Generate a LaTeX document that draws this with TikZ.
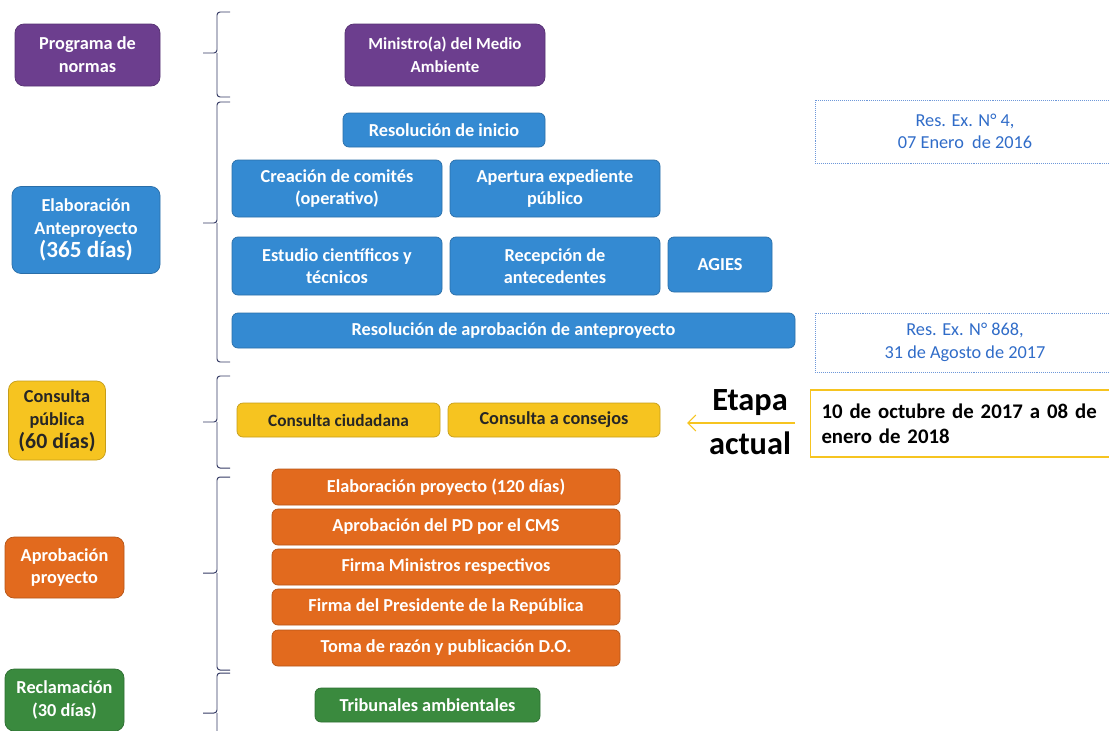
\documentclass[tikz,border=0pt]{standalone}
\usepackage{fontspec}
\setmainfont{Carlito}
\usepackage{xcolor}
\usetikzlibrary{arrows.meta}
\newlength\px
\setlength\px{0.025cm}
\definecolor{normpurple}{RGB}{108,62,142}
\definecolor{normblue}{RGB}{52,138,210}
\definecolor{normyellow}{RGB}{246,196,32}
\definecolor{normorange}{RGB}{226,106,30}
\definecolor{normgreen}{RGB}{58,138,62}
\definecolor{braceblue}{RGB}{52,58,100}
\definecolor{resblue}{RGB}{48,108,200}
\tikzstyle{stage}=[
        rounded corners = 9\px,
        align = center,
        inner sep = 0pt,
        text = white,
        line width = 0.5pt,
        font = \bfseries\fontsize{13}{16.3}\selectfont
    ]
\tikzstyle{task}=[
    rounded corners = 6\px,
    align = center,
    inner sep = 0pt,
    text = white,
    line width = 0.5pt,
    font = \bfseries\fontsize{13}{15.6}\selectfont
]
\tikzstyle{resbox}=[
    draw = resblue!70,
    densely dotted,
    align = center,
    inner sep = 0pt,
    text = resblue,
    font = \fontsize{13}{16}\selectfont
]
\tikzstyle{period}=[
    draw = braceblue,
    line width = 0.7pt,
    rounded corners = 3\px
]

\begin{document}
\begin{tikzpicture}[x=\px, y=-\px]
        \useasboundingbox (0,0) rectangle (1109,730);

        \node[stage, fill=normpurple, draw=normpurple!80!black, minimum width=145\px, minimum height=62\px] (programa) at (87.5,55) {Programa de\\normas};
        \node[stage, fill=normblue, draw=normblue!80!black, minimum width=148\px, minimum height=87\px] (elaboracion) at (86,230) {Elaboración\\Anteproyecto\\{\fontsize{16.5}{19}\selectfont (365 días)}};
        \node[stage, fill=normyellow, draw=normyellow!80!black, text=black!85, minimum width=97\px, minimum height=79\px] (consulta) at (57,420.5) {Consulta\\pública\\{\fontsize{15.5}{18}\selectfont (60 días)}};
        \node[stage, fill=normorange, draw=normorange!80!black, minimum width=119\px, minimum height=61\px] (aprobacion) at (64.5,567.5) {Aprobación\\proyecto};
        \node[stage, fill=normgreen, draw=normgreen!80!black, minimum width=119\px, minimum height=62\px] (reclamacion) at (64.5,700) {Reclamación\\(30 días)};

        \foreach \top/\mid/\bot in {12/53/97, 102/223/362, 376/422/468, 477/573/670, 673/713/760}
            \draw[period] (230,\top) -| (217,\mid) -- (203,\mid) (217,\mid) |- (230,\bot);

        \node[task, fill=normpurple, draw=normpurple!80!black, rounded corners=9\px, minimum width=200\px, minimum height=62\px, font=\bfseries\fontsize{12}{16}\selectfont] (ministro) at (445,55) {Ministro(a) del Medio\\Ambiente};

        \node[task, fill=normblue, draw=normblue!80!black, minimum width=202\px, minimum height=34\px] (inicio) at (444,130) {Resolución de inicio};
        \node[task, fill=normblue, draw=normblue!80!black, minimum width=210\px, minimum height=57\px] (comites) at (337,188.5) {Creación de comités\\(operativo)};
        \node[task, fill=normblue, draw=normblue!80!black, minimum width=210\px, minimum height=57\px] (expediente) at (555,188.5) {Apertura expediente\\público};
        \node[task, fill=normblue, draw=normblue!80!black, minimum width=210\px, minimum height=58\px] (estudios) at (337,266) {Estudio científicos y\\técnicos};
        \node[task, fill=normblue, draw=normblue!80!black, minimum width=210\px, minimum height=58\px] (antecedentes) at (555,266) {Recepción de\\antecedentes};
        \node[task, fill=normblue, draw=normblue!80!black, minimum width=104\px, minimum height=55\px] (agies) at (720,264.5) {AGIES};
        \node[task, fill=normblue, draw=normblue!80!black, minimum width=563\px, minimum height=35\px] (anteproyecto) at (513.5,330.5) {Resolución de aprobación de anteproyecto};

        \node[resbox, minimum width=310\px, minimum height=63\px] (res4) at (970,131.5) {\hspace*{-10\px}Res. Ex. N° 4,\\\hspace*{-10\px}07 Enero~ de 2016};
        \node[resbox, minimum width=310\px, minimum height=59\px] (res868) at (970,342.5) {\hspace*{-10\px}Res. Ex. N° 868,\\\hspace*{-10\px}31 de Agosto de 2017};

        \node[task, fill=normyellow, draw=normyellow!80!black, text=black!85, minimum width=203\px, minimum height=34\px, font=\bfseries\fontsize{12.3}{15}\selectfont] (ciudadana) at (338.5,420) {Consulta ciudadana};
        \node[task, fill=normyellow, draw=normyellow!80!black, text=black!85, minimum width=212\px, minimum height=34\px] (consejos) at (554,420) {Consulta a consejos};

        \node[align=center, inner sep=0pt, font=\bfseries\fontsize{23}{31}\selectfont] (etapa) at (750,422) {Etapa\\actual};
        \node[draw=normyellow, thick, align=left, inner xsep=11\px, inner ysep=0pt, text width=285\px, minimum height=67\px, font=\bfseries\fontsize{14.8}{18}\selectfont] (fecha) at (964,423.5) {10 de octubre de 2017 a 08 de\\enero de 2018};
        \coordinate (desde) at (795,423);
        \coordinate (hasta) at (687,423);
        \draw[normyellow, thick, -{Straight Barb[length=2mm, width=4mm]}] (desde) -- (hasta);

        \node[task, fill=normorange, draw=normorange!80!black, minimum width=348\px, minimum height=36\px] (proyecto) at (446,487) {Elaboración proyecto (120 días)};
        \node[task, fill=normorange, draw=normorange!80!black, minimum width=348\px, minimum height=36\px] (cms) at (446,527) {Aprobación del PD por el CMS};
        \node[task, fill=normorange, draw=normorange!80!black, minimum width=348\px, minimum height=36\px] (ministros) at (446,567) {Firma Ministros respectivos};
        \node[task, fill=normorange, draw=normorange!80!black, minimum width=348\px, minimum height=36\px] (presidente) at (446,607) {Firma del Presidente de la República};
        \node[task, fill=normorange, draw=normorange!80!black, minimum width=348\px, minimum height=36\px] (publicacion) at (446,648) {Toma de razón y publicación D.O.};

        \node[task, fill=normgreen, draw=normgreen!80!black, minimum width=225\px, minimum height=34\px] (tribunales) at (427.5,705) {Tribunales ambientales};

    \end{tikzpicture}
\end{document}
